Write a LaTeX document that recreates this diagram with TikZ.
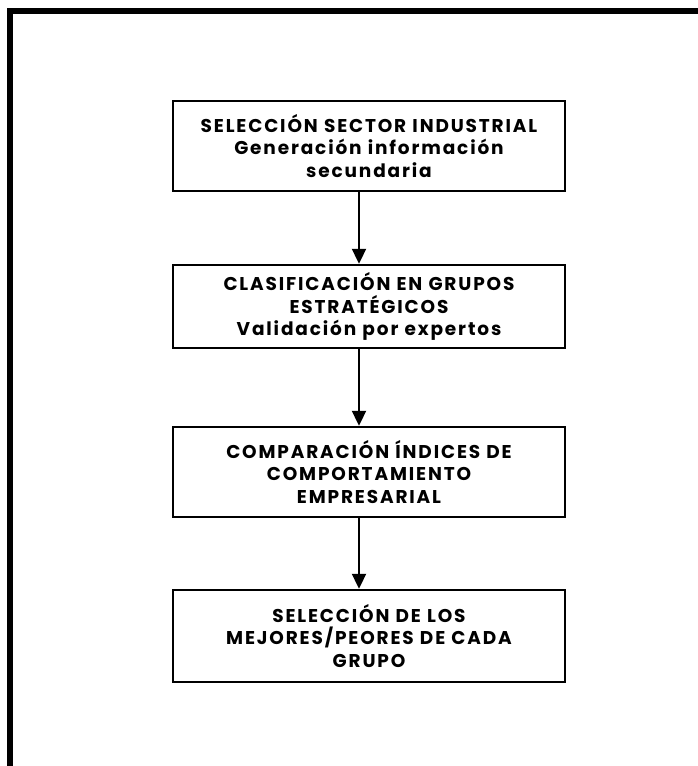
\documentclass[tikz,border=0pt]{standalone}
\usepackage{fontspec}
\setmainfont{Poppins}
\newfontfamily\boxfont{Poppins}[LetterSpace=10, WordSpace=1.2]
\usetikzlibrary{arrows.meta}
\begin{document}
\begin{tikzpicture}[x=1pt,y=-1pt,
  stepbox/.style={draw=black, line width=2.4pt, fill=white,
    minimum width=392pt, text width=386pt, align=center,
    font=\boxfont\bfseries\fontsize{18.5}{22.5}\selectfont, inner sep=0pt},
  flow/.style={draw=black, line width=2pt, -{Triangle[width=14pt,length=15pt]}},
  frame/.style={draw=black, line width=6pt}]
\useasboundingbox (0,0) rectangle (698,766);
% page frame, open at the right and bottom
\draw[frame] (10,780) -- (10,10.5) -- (710,10.5);
\node[stepbox, minimum height=90pt] (s1) at (369,146)
  {SELECCIÓN SECTOR INDUSTRIAL\\Generación información\\secundaria};
\node[stepbox, minimum height=83pt] (s2) at (369,306.5)
  {CLASIFICACIÓN EN GRUPOS\\ESTRATÉGICOS\\Validación por expertos};
\node[stepbox, minimum height=90pt] (s3) at (369,472)
  {COMPARACIÓN ÍNDICES DE\\COMPORTAMIENTO\\EMPRESARIAL};
\node[stepbox, minimum height=92pt] (s4) at (369,636)
  {SELECCIÓN DE LOS\\MEJORES/PEORES DE CADA\\GRUPO};
\draw[flow] ([xshift=-10pt]s1.south) -- ([xshift=-10pt]s2.north);
\draw[flow] ([xshift=-10pt]s2.south) -- ([xshift=-10pt]s3.north);
\draw[flow] ([xshift=-10pt]s3.south) -- ([xshift=-10pt]s4.north);
\end{tikzpicture}
\end{document}
